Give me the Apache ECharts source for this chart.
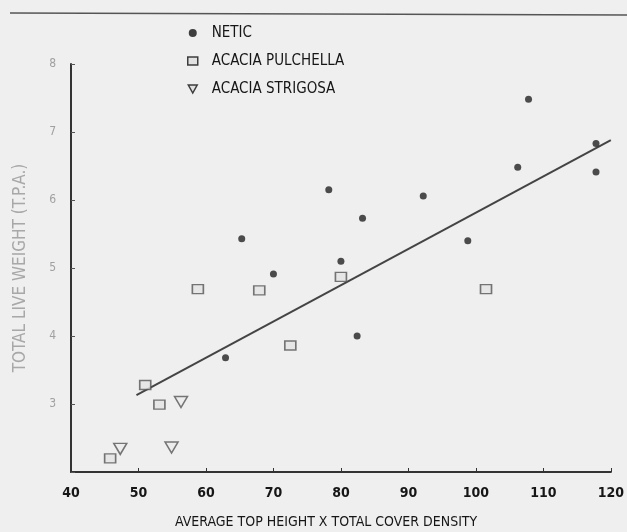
<!DOCTYPE html>
<html>
<head>
<meta charset="utf-8">
<script src="https://cdn.jsdelivr.net/npm/echarts@6/dist/echarts.min.js"></script>
<style>
html,body{margin:0;padding:0;background:#efefef;}
#chart{width:627px;height:532px;}
</style>
</head>
<body>
<div id="chart"></div>
<script>
var xTicks = [40, 50, 60, 70, 80, 90, 100, 110, 120];
var yTicks = [2, 3, 4, 5, 6, 7, 8];
var seriesNames = ['NETIC', 'ACACIA PULCHELLA', 'ACACIA STRIGOSA'];
var xTitle = 'AVERAGE TOP HEIGHT X TOTAL COVER DENSITY';
var yTitle = 'TOTAL LIVE WEIGHT (T.P.A.)';

var netic = [
  [65.3, 5.43], [70.0, 4.91], [62.9, 3.68], [107.8, 7.48], [106.2, 6.48],
  [117.8, 6.83], [117.8, 6.41], [78.2, 6.15], [83.2, 5.73], [92.2, 6.06],
  [80.0, 5.10], [98.8, 5.40], [82.4, 4.00]
];
var pulchella = [
  [58.8, 4.69], [67.9, 4.67], [72.5, 3.86], [51.0, 3.28], [53.1, 2.99],
  [45.8, 2.20], [80.0, 4.87], [101.5, 4.69]
];
var strigosa = [
  [47.3, 2.34], [54.9, 2.36], [56.3, 3.03]
];
var regression = [[49.7, 3.13], [120.0, 6.88]];

var FONT = "'DejaVu Sans Condensed','Liberation Sans Narrow','DejaVu Sans',sans-serif";
var TRI_DOWN = 'path://M0,0 L10,0 L5,9 Z';
var SQUARE = 'path://M0,0 L10,0 L10,8 L0,8 Z';
var INK = '#161616';

var chart = echarts.init(document.getElementById('chart'));
chart.setOption({
  backgroundColor: '#efefef',
  animation: false,
  graphic: [{
    type: 'line',
    shape: {x1: 10, y1: 13, x2: 627, y2: 15},
    style: {stroke: '#555', lineWidth: 1.5}
  }],
  title: {
    text: xTitle,
    left: 170,
    top: 510,
    textStyle: {fontFamily: FONT, fontSize: 14, fontWeight: 'normal', color: INK}
  },
  legend: {
    orient: 'vertical',
    left: 182,
    top: 19,
    itemGap: 10,
    itemWidth: 28,
    itemHeight: 8,
    textStyle: {fontFamily: FONT, fontSize: 15, color: INK, lineHeight: 18},
    data: [
      {name: seriesNames[0], icon: 'circle', itemStyle: {color: '#111'}},
      {name: seriesNames[1], icon: SQUARE, itemStyle: {color: '#ddd', borderColor: '#111', borderWidth: 1.5}},
      {name: seriesNames[2], icon: TRI_DOWN, itemStyle: {color: '#ddd', borderColor: '#111', borderWidth: 1.5}}
    ]
  },
  grid: {left: 71, right: 11, top: 64, bottom: 60},
  xAxis: {
    type: 'value',
    min: 40, max: 120, interval: 10,
    axisLine: {lineStyle: {color: '#333', width: 2}},
    axisTick: {inside: true, length: 4, lineStyle: {color: '#333'}},
    axisLabel: {
      fontFamily: FONT, fontSize: 14, fontWeight: 'bold', color: INK, margin: 14,
      formatter: function (v) { return xTicks.indexOf(v) >= 0 ? String(v) : ''; }
    },
    splitLine: {show: false}
  },
  yAxis: {
    type: 'value',
    min: 2, max: 8, interval: 1,
    name: yTitle,
    nameLocation: 'middle',
    nameGap: 42,
    nameTextStyle: {fontFamily: FONT, fontSize: 17, color: '#a8a8a8'},
    axisLine: {lineStyle: {color: '#333', width: 2}},
    axisTick: {inside: true, length: 4, lineStyle: {color: '#555'}},
    axisLabel: {
      fontFamily: FONT, fontSize: 12, color: '#a0a0a0', margin: 15,
      formatter: function (v) { return (v > 2 && yTicks.indexOf(v) >= 0) ? String(v) : ''; }
    },
    splitLine: {show: false}
  },
  series: [
    {
      name: seriesNames[0],
      type: 'scatter',
      symbol: 'circle',
      symbolSize: 7,
      itemStyle: {color: '#222'},
      data: netic
    },
    {
      name: seriesNames[1],
      type: 'scatter',
      symbol: SQUARE,
      symbolSize: [11, 9],
      itemStyle: {color: '#e4e4e4', borderColor: '#555', borderWidth: 1.5},
      data: pulchella
    },
    {
      name: seriesNames[2],
      type: 'scatter',
      symbol: TRI_DOWN,
      symbolSize: [13, 11],
      itemStyle: {color: '#ececec', borderColor: '#555', borderWidth: 1.5},
      data: strigosa
    },
    {
      name: 'fit',
      type: 'line',
      showSymbol: false,
      symbol: 'none',
      lineStyle: {color: '#444', width: 2},
      data: regression,
      z: 1
    }
  ]
});
</script>
</body>
</html>
